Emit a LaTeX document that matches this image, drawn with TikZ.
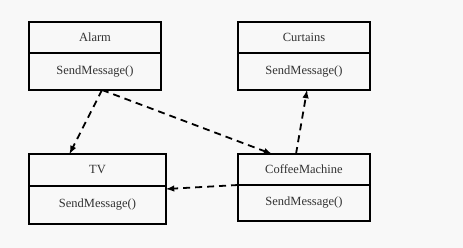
\documentclass[tikz,border=0pt]{standalone}
\usepackage{fontspec}
\setmainfont{Liberation Serif}
\usepackage{tikz}
\usetikzlibrary{positioning}
\usetikzlibrary{calc,arrows}

\definecolor{bggray}{RGB}{248,248,248}
\definecolor{txtgray}{RGB}{50,50,50}

\begin{document}
\begin{tikzpicture}
	[   x=1pt,y=-1pt,
		cbox/.style={draw=black,line width=1.7pt,minimum width=#1,inner sep=0pt,outer sep=0pt,
			text=txtgray,font=\fontsize{12.5}{14}\selectfont},
		cname/.style={cbox=#1,minimum height=31pt},
		cmeth/.style={cbox=#1,minimum height=37pt},
	]
	\tikzset{normal arrow/.style={draw,line width=1.8pt,dash pattern=on 7pt off 5pt,-latex}}
	\fill[bggray] (0,0) rectangle (463,248);
	\useasboundingbox (0,0) rectangle (463,248);

	\node[cname=132pt] (alarm-1) at (95,37.5) {Alarm};
	\node[cmeth=132pt,below=0pt of alarm-1] (alarm-2) {SendMessage()};

	\node[cname=132pt] (curt-1) at (304,37.5) {Curtains};
	\node[cmeth=132pt,below=0pt of curt-1] (curt-2) {SendMessage()};

	\node[cname=137pt,minimum height=32pt] (tv-1) at (97.5,170) {TV};
	\node[cmeth=137pt,minimum height=38pt,below=0pt of tv-1] (tv-2) {SendMessage()};

	\node[cname=132pt] (coffee-1) at (304,169.5) {CoffeeMachine};
	\node[cmeth=132pt,minimum height=36pt,below=0pt of coffee-1] (coffee-2) {SendMessage()};

	\path[normal arrow] ([xshift=7pt]alarm-2.south) -- ([xshift=-28pt]tv-1.north);
	\path[normal arrow] ([xshift=7pt]alarm-2.south) -- ([xshift=-32pt]coffee-1.north);
	\path[normal arrow] ([xshift=-8pt]coffee-1.north) -- ([xshift=3pt]curt-2.south);
	\path[normal arrow] (coffee-1.south west) -- ([yshift=-3pt]tv-2.north east);
\end{tikzpicture}
\end{document}
